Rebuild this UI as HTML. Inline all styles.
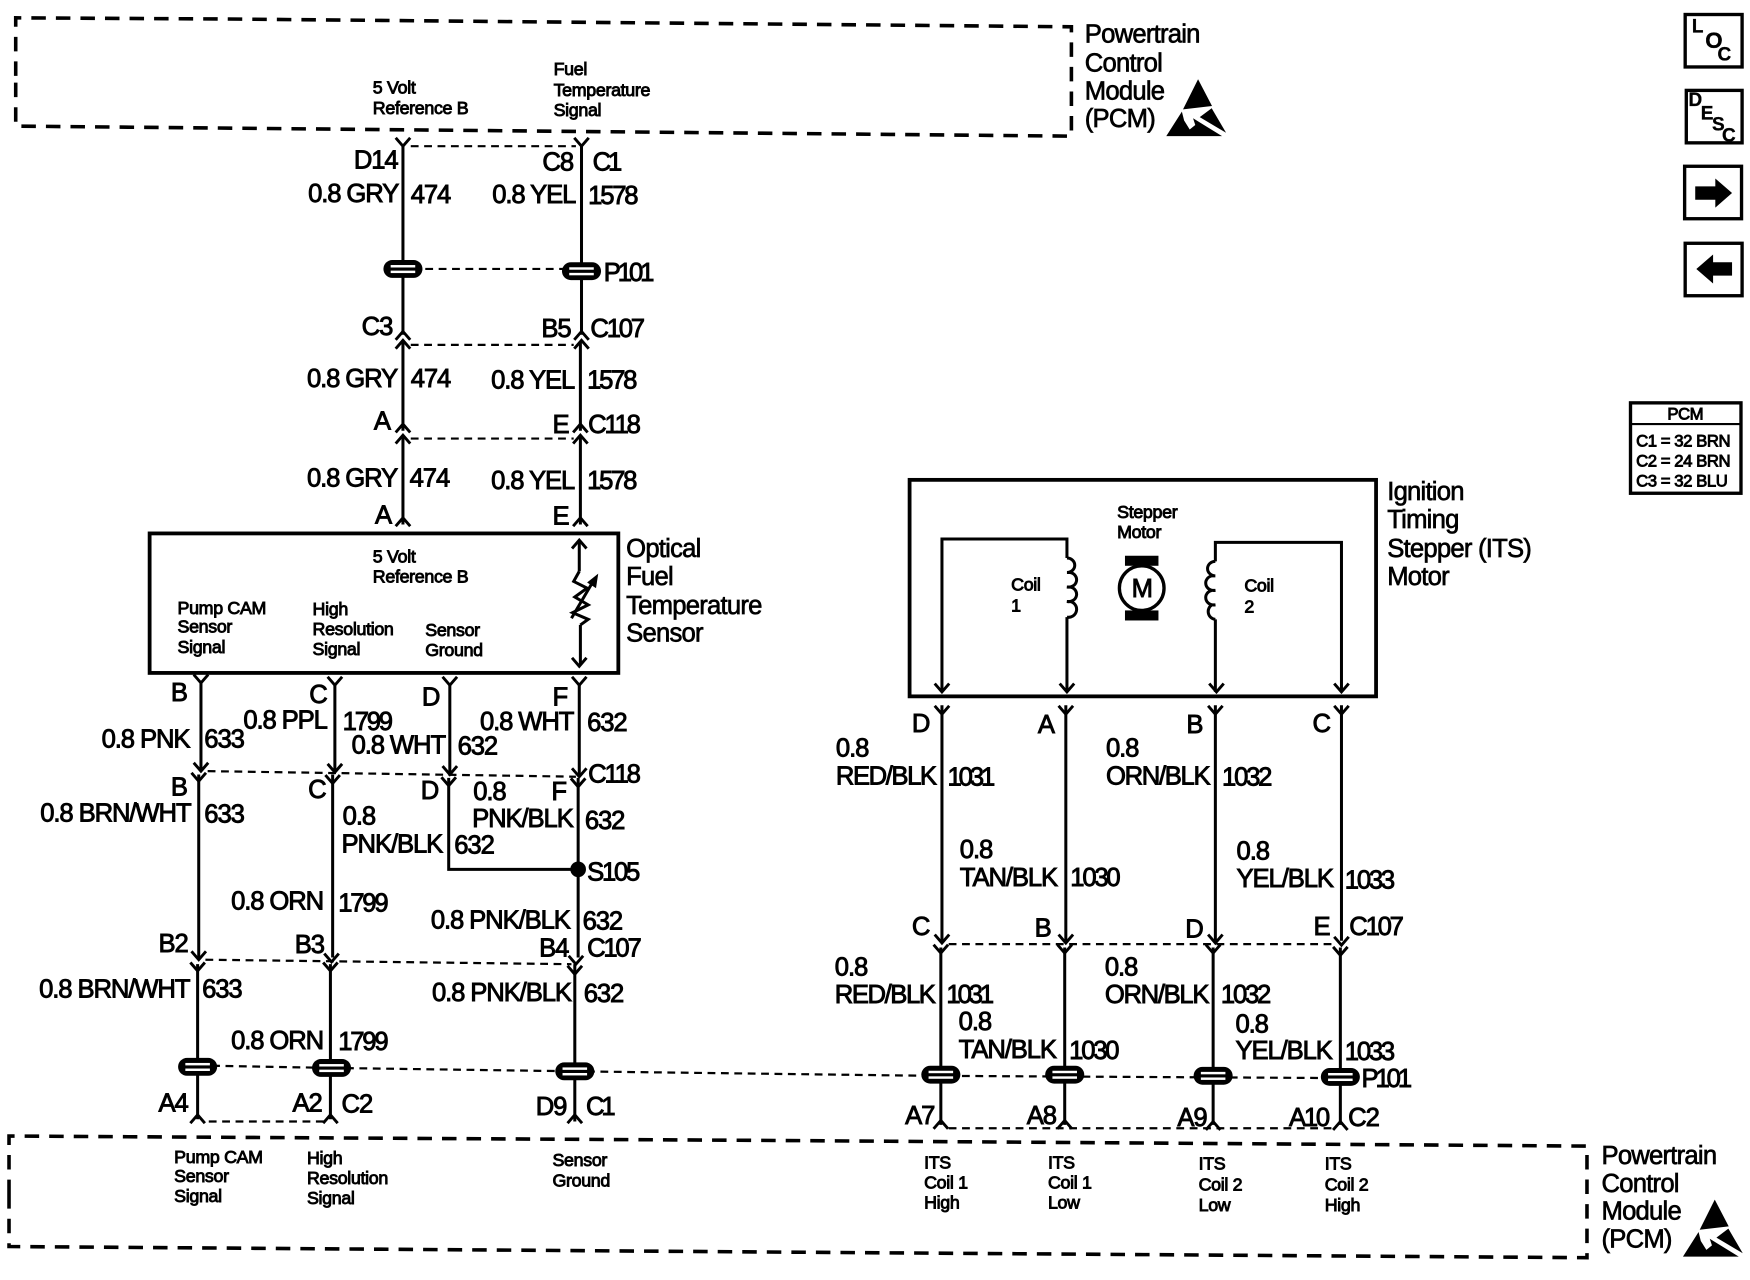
<!DOCTYPE html>
<html><head><meta charset="utf-8"><style>
html,body{margin:0;padding:0;background:#fff}
svg{display:block}
text{font-family:"Liberation Sans",sans-serif;fill:#000;stroke:#000}
.b{font-size:23px;letter-spacing:-1px;stroke-width:.8}
.n2{letter-spacing:-2px}
.n3{letter-spacing:-2.800px}
.l{font-size:23px;letter-spacing:-.7px;stroke-width:.6}
.s{font-size:16px;letter-spacing:-.3px;stroke-width:.8}
.t{font-size:15px;letter-spacing:-.4px;stroke-width:.8}
.i{font-size:17px;font-weight:bold;stroke-width:.3}
.w{fill:none;stroke:#000;stroke-width:2.7}
.d{fill:none;stroke:#000;stroke-width:2;stroke-dasharray:7 5}
.x{fill:none;stroke:#000;stroke-width:3.2;stroke-dasharray:13 9}
</style></head><body>
<svg xmlns="http://www.w3.org/2000/svg" width="1750" height="1280" viewBox="0 0 1568 1147">
<defs>
<path id="v" d="M-6.500,-7.500 L0,0 L6.500,-7.500" fill="none" stroke="#000" stroke-width="2.6"/>
<path id="u" d="M-6.500,7.500 L0,0 L6.500,7.500" fill="none" stroke="#000" stroke-width="2.6"/>
<g id="p"><rect x="-17.500" y="-8" width="35" height="16" rx="8" fill="#000"/><rect x="-11" y="-3.500" width="22" height="2.200" fill="#fff"/><rect x="-11" y="1.500" width="22" height="2.200" fill="#fff"/></g>
<g id="esd"><path d="M1073.500,71 L1060,98 L1086,95 Z" fill="#000"/><path d="M1045,122 L1059,100 L1061,108 L1066,116 L1071,112 L1069,106 L1095,122 Z" fill="#000"/><path d="M1075,105 L1085.700,97 L1098.600,119 Z" fill="#000"/></g>
</defs>
<path class="x" d="M14,68 V16 L200,17 L960,24 V122 L14,113 V68"/>
<path class="x" d="M8,1070 V1018 L700,1022 L1422,1027 V1127 L700,1122 L8,1117 V1070"/>

<path class="w" d="M361,131V300M361,306V386M361,392V470"/>
<path class="w" d="M521,131V300M520,306V386M520,392V470"/>
<path class="d" d="M368,131H516M381,241H505M368,309H514M368,393H514"/>
<use href="#v" x="361" y="131"/><use href="#v" x="521" y="131"/>
<use href="#u" x="361" y="297"/><use href="#u" x="361" y="305"/><use href="#u" x="521" y="297"/><use href="#u" x="521" y="305"/>
<use href="#u" x="361" y="380"/><use href="#u" x="361" y="390"/><use href="#u" x="520" y="380"/><use href="#u" x="520" y="390"/>
<use href="#u" x="361" y="464"/><use href="#u" x="520" y="464"/>
<use href="#p" x="361" y="241"/><use href="#p" x="521" y="243"/>

<rect x="134" y="478" width="420" height="125" fill="none" stroke="#000" stroke-width="3.400"/>
<path class="w" d="M519,485V512M520,560V596"/>
<use href="#u" x="519" y="484"/><use href="#v" x="519" y="597"/>
<path class="w" d="M519,512 L514,521 L526,527 L515,535 L527,542 L513,549 L527,555 L520,560"/>
<path class="w" d="M512,554 L532,520"/><path d="M536,514 L526,522 L534,527 Z" fill="#000"/>

<path class="w" d="M180,610V690M178,694V858M177,864V1003"/>
<path class="w" d="M300,612V692M298,694V858M296,864V1003"/>
<path class="w" d="M403,612V695M402,697V779H518"/>
<path class="w" d="M519,612V695M518,697V858M515,864V1005"/>
<path class="d" d="M186,691L516,696M184,860L512,864M187,1005H290"/>
<path class="d" d="M190,955L300,957L515,960L830,964L1190,966"/>
<use href="#v" x="180" y="612"/><use href="#v" x="300" y="614"/><use href="#v" x="403" y="614"/><use href="#v" x="519" y="614"/>
<use href="#v" x="180" y="691"/><use href="#v" x="300" y="692"/><use href="#v" x="403" y="694"/><use href="#v" x="519" y="696"/>
<use href="#v" x="178" y="700"/><use href="#v" x="298" y="702"/><use href="#v" x="402" y="704"/><use href="#v" x="518" y="705"/>
<use href="#v" x="178" y="860"/><use href="#v" x="297" y="862"/><use href="#v" x="516" y="864"/>
<use href="#v" x="177" y="870"/><use href="#v" x="296" y="870"/><use href="#v" x="515" y="873"/>
<use href="#u" x="177" y="999"/><use href="#u" x="296" y="999"/><use href="#u" x="515" y="999"/>
<use href="#p" x="177" y="956"/><use href="#p" x="297" y="957"/><use href="#p" x="515" y="960"/>
<circle cx="518" cy="779" r="7" fill="#000"/>

<rect x="815" y="430" width="418" height="194" fill="none" stroke="#000" stroke-width="3.400"/>
<path class="w" d="M844,620V483H956V500M956,553V620"/>
<path class="w" d="M1202,620V486H1089V503M1089,555V620"/>
<path class="w" d="M956,500 a7,6.500 0 0 1 0,13 h3 a7,6.500 0 0 1 -3,13 h3 a7,6.500 0 0 1 -3,13 h3 a7,7 0 0 1 -3,14"/>
<path class="w" d="M1089,503 a7,6.500 0 0 0 0,13 h-3 a7,6.500 0 0 0 3,13 h-3 a7,6.500 0 0 0 3,13 h-3 a7,7 0 0 0 3,13"/>
<use href="#v" x="844" y="620"/><use href="#v" x="956" y="620"/><use href="#v" x="1090" y="620"/><use href="#v" x="1202" y="620"/>
<rect x="1008" y="498" width="30" height="9" fill="#000"/><rect x="1008" y="547" width="30" height="9" fill="#000"/>
<circle cx="1023" cy="527" r="20" fill="#fff" stroke="#000" stroke-width="3"/>
<text class="b" x="1014" y="535">M</text>

<path class="w" d="M844,632V843M843,849V1008M955,632V843M954,849V1008M1089,632V843M1087,849V1008M1202,632V843M1201,849V1008"/>
<path class="d" d="M850,846H1196M850,1011H1196"/>
<use href="#v" x="844" y="640"/><use href="#v" x="955" y="640"/><use href="#v" x="1089" y="640"/><use href="#v" x="1202" y="640"/>
<use href="#v" x="844" y="845"/><use href="#v" x="955" y="845"/><use href="#v" x="1089" y="845"/><use href="#v" x="1202" y="847"/>
<use href="#v" x="843" y="854"/><use href="#v" x="954" y="854"/><use href="#v" x="1087" y="854"/><use href="#v" x="1201" y="856"/>
<use href="#u" x="843" y="1004"/><use href="#u" x="954" y="1004"/><use href="#u" x="1087" y="1005"/><use href="#u" x="1201" y="1005"/>
<use href="#p" x="843" y="963"/><use href="#p" x="954" y="963"/><use href="#p" x="1087" y="964"/><use href="#p" x="1201" y="965"/>

<use href="#esd"/><use href="#esd" x="463" y="1004"/>

<rect x="1510" y="13" width="51" height="47" fill="none" stroke="#000" stroke-width="3"/>
<rect x="1511" y="81" width="50" height="47" fill="none" stroke="#000" stroke-width="3"/>
<rect x="1509.500" y="149" width="51" height="47" fill="none" stroke="#000" stroke-width="3"/>
<rect x="1510" y="218" width="51" height="47" fill="none" stroke="#000" stroke-width="3"/>
<path d="M1519,167H1537V160L1552,173L1537,186V179H1519Z" fill="#000"/>
<path d="M1552,235H1535V228L1520,241L1535,254V247H1552Z" fill="#000"/>
<rect x="1461" y="361" width="99" height="81" fill="none" stroke="#000" stroke-width="3"/>
<path d="M1461,380H1560" stroke="#000" stroke-width="2"/>

<text class="i" x="1516" y="29">L</text><text class="i" x="1528" y="43" style="font-size:20px">O</text><text class="i" x="1539" y="54">C</text>
<text class="i" x="1513" y="95">D</text><text class="i" x="1524" y="107">E</text><text class="i" x="1534" y="117">S</text><text class="i" x="1543" y="127">C</text>
<text class="t" x="1494" y="376">PCM</text><text class="t" x="1466" y="400">C1 = 32 BRN</text><text class="t" x="1466" y="418">C2 = 24 BRN</text><text class="t" x="1466" y="436">C3 = 32 BLU</text>

<text class="l" x="972" y="38">Powertrain</text><text class="l" x="972" y="64">Control</text><text class="l" x="972" y="89">Module</text><text class="l" x="972" y="114">(PCM)</text>
<text class="l" x="1435" y="1043">Powertrain</text><text class="l" x="1435" y="1068">Control</text><text class="l" x="1435" y="1093">Module</text><text class="l" x="1435" y="1118">(PCM)</text>
<text class="l" x="561" y="499">Optical</text><text class="l" x="561" y="524">Fuel</text><text class="l" x="561" y="550">Temperature</text><text class="l" x="561" y="575">Sensor</text>
<text class="l" x="1243" y="448">Ignition</text><text class="l" x="1243" y="473">Timing</text><text class="l" x="1243" y="499">Stepper (ITS)</text><text class="l" x="1243" y="524">Motor</text>

<text class="s" x="334" y="84">5 Volt</text><text class="s" x="334" y="102">Reference B</text>
<text class="s" x="496" y="67">Fuel</text><text class="s" x="496" y="86">Temperature</text><text class="s" x="496" y="104">Signal</text>
<text class="s" x="334" y="504">5 Volt</text><text class="s" x="334" y="522">Reference B</text>
<text class="s" x="159" y="550">Pump CAM</text><text class="s" x="159" y="567">Sensor</text><text class="s" x="159" y="585">Signal</text>
<text class="s" x="280" y="551">High</text><text class="s" x="280" y="569">Resolution</text><text class="s" x="280" y="587">Signal</text>
<text class="s" x="381" y="570">Sensor</text><text class="s" x="381" y="588">Ground</text>
<text class="s" x="1001" y="464">Stepper</text><text class="s" x="1001" y="482">Motor</text>
<text class="s" x="906" y="529">Coil</text><text class="s" x="906" y="548">1</text><text class="s" x="1115" y="530">Coil</text><text class="s" x="1115" y="549">2</text>
<text class="s" x="156" y="1042">Pump CAM</text><text class="s" x="156" y="1059">Sensor</text><text class="s" x="156" y="1077">Signal</text>
<text class="s" x="275" y="1043">High</text><text class="s" x="275" y="1061">Resolution</text><text class="s" x="275" y="1079">Signal</text>
<text class="s" x="495" y="1045">Sensor</text><text class="s" x="495" y="1063">Ground</text>
<text class="s" x="828" y="1047">ITS</text><text class="s" x="828" y="1065">Coil 1</text><text class="s" x="828" y="1083">High</text>
<text class="s" x="939" y="1047">ITS</text><text class="s" x="939" y="1065">Coil 1</text><text class="s" x="939" y="1083">Low</text>
<text class="s" x="1074" y="1048">ITS</text><text class="s" x="1074" y="1067">Coil 2</text><text class="s" x="1074" y="1085">Low</text>
<text class="s" x="1187" y="1048">ITS</text><text class="s" x="1187" y="1067">Coil 2</text><text class="s" x="1187" y="1085">High</text>

<text class="b" x="317" y="151">D14</text><text class="b" x="276" y="181">0.8 GRY</text><text class="b" x="368" y="182">474</text>
<text class="b" x="486" y="153">C8</text><text class="b n3" x="531" y="153">C1</text><text class="b" x="441" y="182">0.8 YEL</text><text class="b n2" x="527" y="183">1578</text>
<text class="b n3" x="541" y="252">P101</text><text class="b" x="324" y="300">C3</text><text class="b" x="485" y="302">B5</text><text class="b n2" x="529" y="302">C107</text>
<text class="b" x="275" y="347">0.8 GRY</text><text class="b" x="368" y="347">474</text><text class="b" x="440" y="348">0.8 YEL</text><text class="b n2" x="526" y="348">1578</text>
<text class="b" x="335" y="385">A</text><text class="b" x="495" y="388">E</text><text class="b n2" x="527" y="388">C118</text>
<text class="b" x="275" y="436">0.8 GRY</text><text class="b" x="367" y="436">474</text><text class="b" x="440" y="438">0.8 YEL</text><text class="b n2" x="526" y="438">1578</text>
<text class="b" x="336" y="469">A</text><text class="b" x="495" y="470">E</text>

<text class="b" x="153" y="628">B</text><text class="b" x="277" y="630">C</text><text class="b" x="378" y="632">D</text><text class="b" x="495" y="632">F</text>
<text class="b" x="91" y="670">0.8 PNK</text><text class="b" x="183" y="670">633</text><text class="b" x="218" y="653">0.8 PPL</text><text class="b n2" x="307" y="654">1799</text>
<text class="b" x="315" y="675">0.8 WHT</text><text class="b" x="410" y="676">632</text><text class="b" x="430" y="654">0.8 WHT</text><text class="b" x="526" y="655">632</text>
<text class="b n2" x="527" y="701">C118</text><text class="b" x="153" y="713">B</text><text class="b" x="276" y="715">C</text><text class="b" x="377" y="716">D</text><text class="b" x="424" y="717">0.8</text><text class="b" x="494" y="717">F</text>
<text class="b" x="36" y="736">0.8 BRN/WHT</text><text class="b" x="183" y="737">633</text><text class="b" x="307" y="739">0.8</text><text class="b" x="306" y="764">PNK/BLK</text><text class="b" x="407" y="765">632</text>
<text class="b" x="423" y="741">PNK/BLK</text><text class="b" x="524" y="743">632</text><text class="b n2" x="526" y="789">S105</text>
<text class="b" x="207" y="815">0.8 ORN</text><text class="b n2" x="303" y="817">1799</text><text class="b" x="386" y="832">0.8 PNK/BLK</text><text class="b" x="522" y="833">632</text>
<text class="b" x="142" y="853">B2</text><text class="b" x="264" y="854">B3</text><text class="b" x="483" y="857">B4</text><text class="b n2" x="526" y="857">C107</text>
<text class="b" x="35" y="894">0.8 BRN/WHT</text><text class="b" x="181" y="894">633</text><text class="b" x="387" y="897">0.8 PNK/BLK</text><text class="b" x="523" y="898">632</text>
<text class="b" x="207" y="940">0.8 ORN</text><text class="b n2" x="303" y="941">1799</text>
<text class="b" x="142" y="996">A4</text><text class="b" x="262" y="996">A2</text><text class="b" x="306" y="997">C2</text><text class="b" x="480" y="999">D9</text><text class="b n3" x="525" y="999">C1</text>

<text class="b" x="817" y="656">D</text><text class="b" x="930" y="657">A</text><text class="b" x="1063" y="657">B</text><text class="b" x="1176" y="656">C</text>
<text class="b" x="749" y="678">0.8</text><text class="b" x="749" y="703" style="letter-spacing:-1.300px">RED/BLK</text><text class="b n3" x="849" y="704">1031</text>
<text class="b" x="991" y="678">0.8</text><text class="b" x="991" y="703" style="letter-spacing:-1.200px">ORN/BLK</text><text class="b n2" x="1095" y="704">1032</text>
<text class="b" x="860" y="769">0.8</text><text class="b" x="860" y="794">TAN/BLK</text><text class="b n2" x="959" y="794">1030</text>
<text class="b" x="1108" y="770">0.8</text><text class="b" x="1108" y="795">YEL/BLK</text><text class="b n2" x="1205" y="796">1033</text>
<text class="b" x="817" y="838">C</text><text class="b" x="927" y="839">B</text><text class="b" x="1062" y="840">D</text><text class="b" x="1177" y="838">E</text><text class="b n2" x="1209" y="838">C107</text>
<text class="b" x="748" y="874">0.8</text><text class="b" x="748" y="899" style="letter-spacing:-1.300px">RED/BLK</text><text class="b n3" x="848" y="899">1031</text>
<text class="b" x="990" y="874">0.8</text><text class="b" x="990" y="899" style="letter-spacing:-1.200px">ORN/BLK</text><text class="b n2" x="1094" y="899">1032</text>
<text class="b" x="859" y="923">0.8</text><text class="b" x="859" y="948">TAN/BLK</text><text class="b n2" x="958" y="949">1030</text>
<text class="b" x="1107" y="925">0.8</text><text class="b" x="1107" y="949">YEL/BLK</text><text class="b n2" x="1205" y="950">1033</text>
<text class="b n3" x="1220" y="974">P101</text>
<text class="b" x="811" y="1007">A7</text><text class="b" x="920" y="1007">A8</text><text class="b" x="1055" y="1009">A9</text><text class="b n2" x="1155" y="1009">A10</text><text class="b" x="1208" y="1009">C2</text>
</svg>
</body></html>
